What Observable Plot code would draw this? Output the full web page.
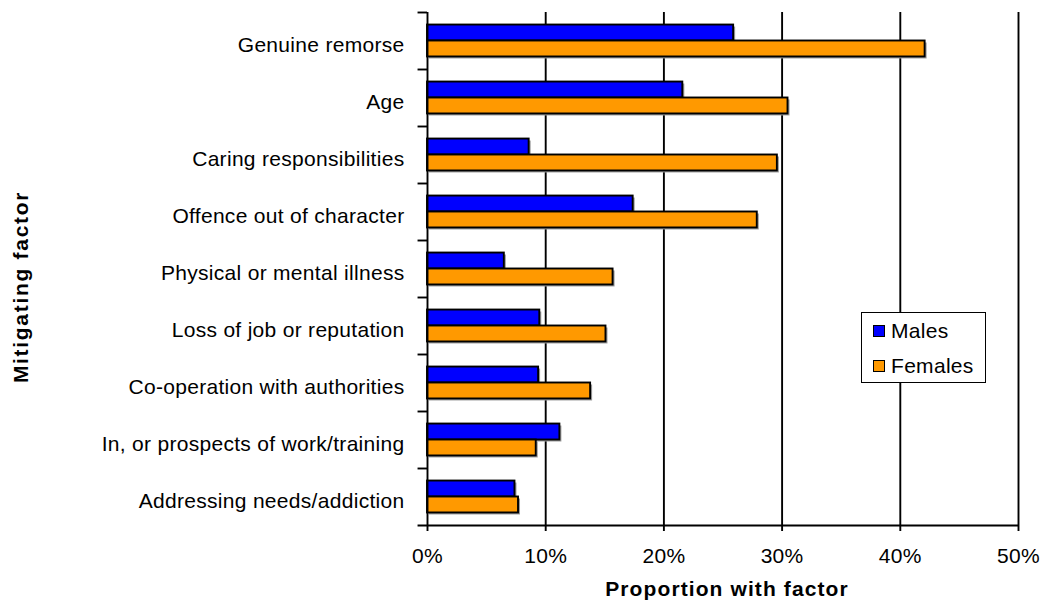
<!DOCTYPE html>
<html><head><meta charset="utf-8">
<script src="https://cdn.jsdelivr.net/npm/d3@7"></script>
<script src="https://cdn.jsdelivr.net/npm/@observablehq/plot@0.6"></script>
<style>
body{margin:0;background:#fff;}
#wrap{position:relative;width:1043px;height:606px;font-family:"Liberation Sans",Arial,sans-serif;}
#wrap svg text{letter-spacing:0.3px;}
#wrap svg .xlab text{letter-spacing:1.1px;}
#wrap svg .ylab text{letter-spacing:1.7px;}
#legend{position:absolute;left:861px;top:312px;width:123px;height:69px;border:1.5px solid #000;background:#fff;font-size:21px;letter-spacing:0.3px;color:#000;}
#legend .item{position:absolute;left:11px;display:flex;align-items:center;}
#legend .sw{width:10px;height:10px;border:1px solid #000;margin-right:6px;}
</style></head><body><div id="wrap"></div>
<script>
const categories = ["Genuine remorse","Age","Caring responsibilities","Offence out of character","Physical or mental illness","Loss of job or reputation","Co-operation with authorities","In, or prospects of work/training","Addressing needs/addiction"];
const males = [25.9,21.6,8.6,17.4,6.5,9.5,9.4,11.2,7.4];
const females = [42.1,30.5,29.6,27.9,15.7,15.1,13.8,9.2,7.7];
const xTicks = [0,10,20,30,40,50];
const seriesNames = ["Males","Females"];
const seriesColors = ["#0000ff","#ff9900"];
const xLabel = "Proportion with factor";
const yLabel = "Mitigating factor";

const W = 1043, H = 606, mT = 12, mB = 81, mL = 427, mR = 25;
const bw = (H - mT - mB) / categories.length;
const outer = bw * 0.22, bar = (bw - 2 * outer) / 2;
const rows = categories.map((c, i) => ({category: c, males: males[i], females: females[i]}));
const SW = 1.9;

const chart = Plot.plot({
  width: W, height: H,
  marginTop: mT, marginBottom: mB, marginLeft: mL, marginRight: mR,
  style: {fontFamily: '"Liberation Sans", Arial, sans-serif', fontSize: "21px", color: "#000", background: "#fff"},
  x: {domain: [0, 50], label: null},
  y: {domain: categories, padding: 0, label: null},
  marks: [
    Plot.ruleX(xTicks.filter(d => d > 0), {stroke: "#000", strokeWidth: SW}),
    Plot.barX(rows, {x: "males", y: "category", fill: "#9a9a9a", dx: 2, dy: 2, insetTop: outer, insetBottom: outer + bar}),
    Plot.barX(rows, {x: "females", y: "category", fill: "#9a9a9a", dx: 2, dy: 2, insetTop: outer + bar, insetBottom: outer}),
    Plot.barX(rows, {x: "males", y: "category", fill: seriesColors[0], stroke: "#000", strokeWidth: SW, insetTop: outer, insetBottom: outer + bar}),
    Plot.barX(rows, {x: "females", y: "category", fill: seriesColors[1], stroke: "#000", strokeWidth: SW, insetTop: outer + bar, insetBottom: outer}),
    Plot.ruleX([0], {stroke: "#000", strokeWidth: SW}),
    Plot.ruleY(categories, {y: d => d, x1: -0.8, x2: 0, dy: -bw / 2, stroke: "#000", strokeWidth: SW}),
    Plot.ruleY([categories[categories.length - 1]], {y: d => d, x1: -0.8, x2: 50, dy: bw / 2, stroke: "#000", strokeWidth: SW}),
    Plot.axisX({ticks: xTicks, tickFormat: d => d + "%", tickSize: 6, tickPadding: 17, label: null, stroke: "#000", strokeWidth: SW}),
    Plot.axisY({tickSize: 0, tickPadding: 23, dy: 4, label: null}),
    Plot.text([xLabel], {text: d => d, frameAnchor: "bottom", textAnchor: "middle", dy: 70, dx: 4, fontWeight: "bold", fontSize: 21, className: "xlab"}),
    Plot.text([yLabel], {text: d => d, frameAnchor: "left", textAnchor: "middle", rotate: -90, dx: -406, dy: 18, fontWeight: "bold", fontSize: 21, className: "ylab"})
  ]
});
const wrap = document.getElementById("wrap");
wrap.appendChild(chart);
const legend = document.createElement("div");
legend.id = "legend";
seriesNames.forEach((name, i) => {
  const item = document.createElement("div");
  item.className = "item";
  item.style.top = (i === 0 ? 6 : 41) + "px";
  const sw = document.createElement("div");
  sw.className = "sw";
  sw.style.background = seriesColors[i];
  const t = document.createElement("span");
  t.textContent = name;
  item.appendChild(sw); item.appendChild(t);
  legend.appendChild(item);
});
wrap.appendChild(legend);
</script></body></html>
